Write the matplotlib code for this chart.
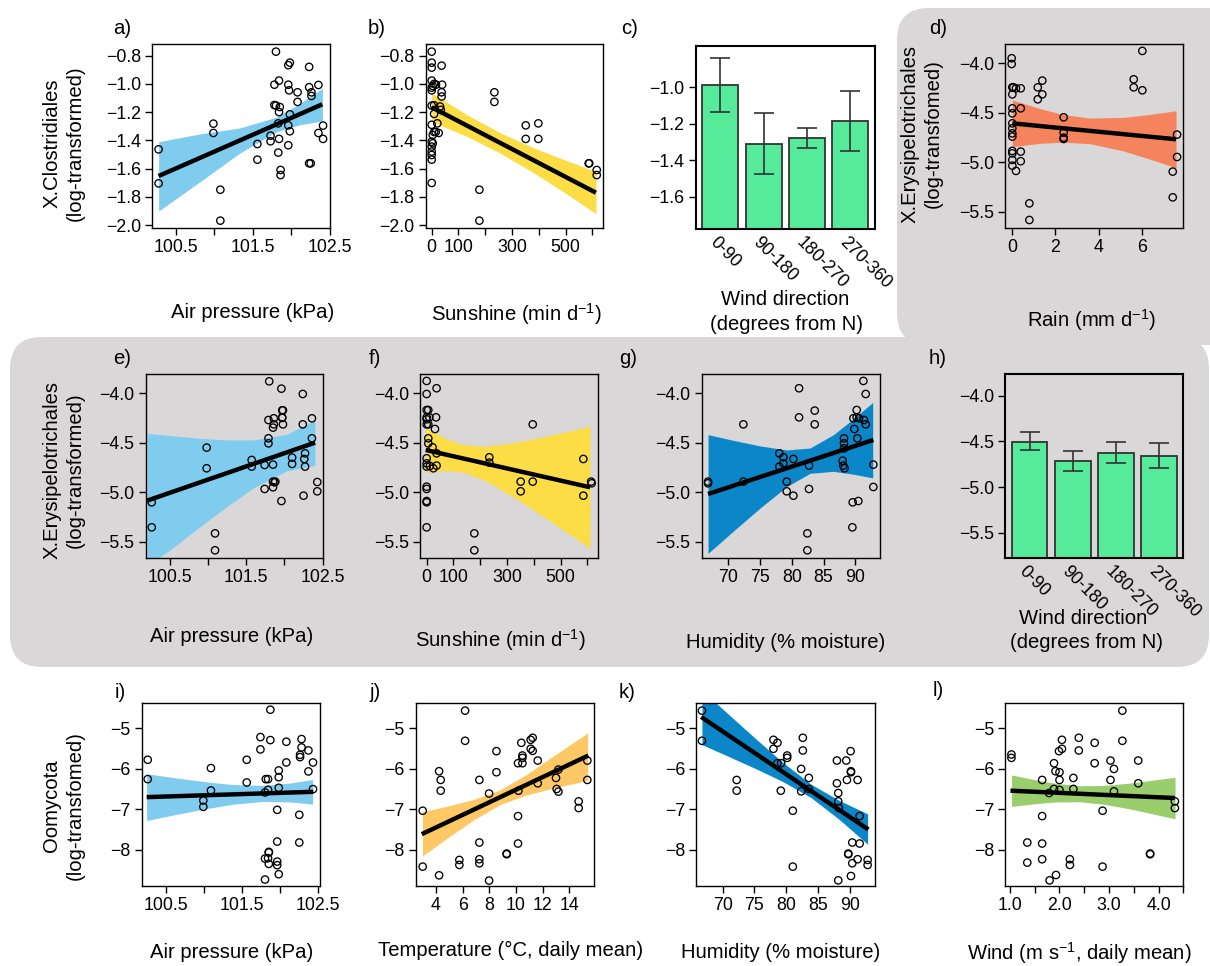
import numpy as np
import matplotlib
matplotlib.use('Agg')
import matplotlib.pyplot as plt
import matplotlib.transforms as mtransforms
from matplotlib.patches import FancyBboxPatch

plt.rcParams['font.family'] = ['Liberation Sans', 'DejaVu Sans']
plt.rcParams['mathtext.fontset'] = 'custom'
plt.rcParams['mathtext.rm'] = 'Liberation Sans'
plt.rcParams['mathtext.sf'] = 'Liberation Sans'
plt.rcParams['mathtext.it'] = 'Liberation Sans:italic'

W, H = 1210, 966
TICK_FS = 12.8
LAB_FS = 14.6

# ---- colours
LIGHT_BLUE = '#80CCEE'
YELLOW = '#FCDD45'
SALMON = '#F5845E'
DARK_BLUE = '#0B87C9'
ORANGE = '#FEC867'
GREEN = '#9ACD6C'
BAR_GREEN = '#56EB9A'
PANEL_GREY = '#D9D7D8'

# ---- a) X.Clostridiales vs air pressure
a_x = [100.28, 100.28, 100.99, 100.99, 101.08, 101.08, 101.56, 101.56, 101.73, 101.73,
       101.80, 101.78, 101.84, 101.78, 101.80, 101.85, 101.84, 101.83, 101.84, 101.83,
       101.86, 101.86, 101.96, 101.98, 101.96, 101.97, 101.98, 101.96, 101.98, 101.96,
       102.08, 102.08, 102.23, 102.23, 102.26, 102.26, 102.35, 102.35, 102.41, 102.41,
       102.25, 102.23]
a_y = [-1.464, -1.705, -1.282, -1.348, -1.750, -1.969, -1.426, -1.537, -1.367, -1.407,
       -0.772, -1.006, -0.977, -1.150, -1.154, -1.164, -1.200, -1.280, -1.390, -1.487,
       -1.610, -1.646, -0.868, -0.850, -1.006, -1.046, -1.216, -1.294, -1.336, -1.435,
       -1.060, -1.128, -0.880, -1.024, -1.060, -1.086, -1.008, -1.348, -1.296, -1.390,
       -1.563, -1.563]
a_fit_x = [100.28, 102.40]
a_fit_y = [-1.653, -1.145]
a_band_x = [100.281, 100.813, 101.328, 101.800, 102.101, 102.401]
a_band_hi = [-1.410, -1.355, -1.313, -1.237, -1.143, -1.032]
a_band_lo = [-1.901, -1.695, -1.492, -1.341, -1.291, -1.263]

# ---- b) X.Clostridiales vs sunshine
b_x = [0, 0, 0, 0, 0, 0, 4, 9, 16, 0, 9, 0, 9, 9, 4, 0, 4, 0, 0, 0, 0, 0,
       15, 21, 26, 37, 39, 37, 37, 31, 34, 178, 178, 234, 234, 351, 351, 398, 398,
       586, 588, 616, 616]
b_y = [-0.772, -0.850, -0.885, -0.977, -1.027, -1.046, -1.015, -1.000, -1.006,
       -1.154, -1.152, -1.290, -1.213, -1.341, -1.362, -1.410, -1.421, -1.445, -1.480,
       -1.504, -1.537, -1.702, -1.341, -1.280, -1.348, -0.871, -1.006, -1.060, -1.090,
       -1.161, -1.185, -1.750, -1.969, -1.060, -1.128, -1.294, -1.390, -1.280, -1.390,
       -1.563, -1.563, -1.610, -1.646]
b_fit_x = [0, 613]
b_fit_y = [-1.166, -1.771]
b_band_x = [0, 130.6, 255.0, 379.4, 503.7, 613.2]
b_band_hi = [-1.065, -1.218, -1.346, -1.452, -1.544, -1.622]
b_band_lo = [-1.268, -1.372, -1.490, -1.629, -1.780, -1.920]

# ---- c) X.Clostridiales vs wind direction (bars)
wind_dirs = ['0-90', '90-180', '180-270', '270-360']
c_mean = [-0.986, -1.310, -1.275, -1.187]
c_lo = [-1.134, -1.476, -1.330, -1.348]
c_hi = [-0.837, -1.140, -1.220, -1.022]

# ---- d) X.Erysipelotrichales vs rain
d_x = [-0.03, -0.03, 0, 0, 0, 0, 0, 0, 0, 0, 0, 0, 0, 0, 0.05, 0.17, 0.17,
       0.39, 0.39, 0.39, 0.39, 0.79, 0.79, 1.18, 1.18, 1.39, 1.39, 2.38, 2.38, 2.38,
       2.38, 5.63, 5.63, 6.03, 6.03, 7.44, 7.44, 7.64, 7.64]
d_y = [-3.949, -4.007, -4.243, -4.314, -4.455, -4.506, -4.607, -4.657, -4.708, -4.741,
       -4.886, -4.910, -4.977, -5.035, -4.243, -4.253, -5.088, -4.253, -4.455, -4.893,
       -4.990, -5.416, -5.584, -4.243, -4.364, -4.175, -4.314, -4.546, -4.701, -4.752,
       -4.765, -4.162, -4.243, -3.875, -4.273, -5.095, -5.355, -4.721, -4.947]
d_fit_x = [0, 7.59]
d_fit_y = [-4.607, -4.768]
d_band_x = [0, 1.283, 2.366, 3.603, 5.149, 6.386, 7.592]
d_band_hi = [-4.371, -4.458, -4.518, -4.554, -4.547, -4.517, -4.480]
d_band_lo = [-4.843, -4.809, -4.797, -4.813, -4.886, -4.969, -5.057]

# ---- e) X.Erysipelotrichales vs air pressure
e_x = [100.26, 100.26, 100.98, 100.98, 101.09, 101.09, 101.57, 101.57, 101.74, 101.74,
       101.80, 101.79, 101.79, 101.79, 101.85, 101.86, 101.86, 101.85, 101.85, 101.87,
       101.88, 101.85, 101.96, 101.97, 101.97, 101.98, 101.98, 101.97, 101.96, 102.10,
       102.10, 102.24, 102.24, 102.26, 102.27, 102.27, 102.25, 102.36, 102.36, 102.43,
       102.43]
e_y = [-5.102, -5.355, -4.549, -4.758, -5.416, -5.587, -4.674, -4.741, -4.725, -4.967,
       -3.879, -4.270, -4.455, -4.506, -4.347, -4.253, -4.314, -4.721, -4.893, -4.900,
       -4.893, -4.950, -3.953, -4.172, -4.243, -4.172, -4.314, -4.249, -5.089, -4.650,
       -4.714, -4.007, -4.314, -4.664, -4.607, -4.741, -5.035, -4.253, -4.455, -4.897,
       -4.991]
e_fit_x = [100.20, 102.40]
e_fit_y = [-5.085, -4.499]
e_band_x = [100.20, 100.544, 100.893, 101.242, 101.592, 102.028, 102.400]
e_band_hi = [-4.405, -4.431, -4.455, -4.472, -4.472, -4.415, -4.273]
e_band_lo = [-5.745, -5.558, -5.348, -5.146, -4.957, -4.785, -4.728]

# ---- f) X.Erysipelotrichales vs sunshine
f_x = [0, 0, 0, 0, 0, 0, 0, 0, 0, 0, 0, 0, 0, 0,
       6, 6, 6, 6, 10, 12, 22, 25, 31, 35, 37, 37, 37, 178, 178, 234, 234,
       351, 351, 396, 396, 585, 585, 614, 616]
f_y = [-3.875, -4.007, -4.169, -4.243, -4.263, -4.314, -4.657, -4.708, -4.741, -4.944,
       -4.967, -5.089, -5.102, -5.355, -4.169, -4.314, -4.455, -4.506, -4.243, -4.735,
       -4.546, -4.758, -4.361, -4.243, -3.949, -4.607, -4.731, -5.416, -5.587, -4.647,
       -4.701, -4.893, -4.991, -4.314, -4.893, -4.664, -5.035, -4.893, -4.910]
f_fit_x = [-3.7, 610]
f_fit_y = [-4.573, -4.950]
f_band_x = [-3.7, 74.7, 136.9, 224.1, 323.7, 423.3, 522.9, 610.0]
f_band_hi = [-4.347, -4.462, -4.521, -4.536, -4.500, -4.447, -4.388, -4.334]
f_band_lo = [-4.799, -4.780, -4.798, -4.890, -5.049, -5.224, -5.406, -5.567]

# ---- g) X.Erysipelotrichales vs humidity
g_x = [66.8, 66.8, 72.36, 72.36, 78.03, 78.03, 78.66, 78.66, 79.19, 79.19, 80.24, 80.24,
       81.13, 81.13, 82.44, 82.44, 82.7, 82.7, 83.6, 83.6, 88.21, 88.21, 88.21, 88.0,
       88.1, 88.3, 89.58, 89.53, 89.69, 89.84, 90.21, 90.21, 90.31, 90.47, 90.58, 91.26,
       91.36, 91.63, 91.63, 92.83, 92.83]
g_y = [-4.893, -4.910, -4.314, -4.893, -4.607, -4.741, -4.647, -4.708, -4.893, -4.991,
       -4.664, -5.035, -3.949, -4.243, -5.416, -5.587, -4.731, -4.967, -4.175, -4.314,
       -4.455, -4.506, -4.556, -4.681, -4.731, -4.758, -5.102, -5.355, -4.253, -4.361,
       -4.169, -4.243, -4.455, -5.089, -4.253, -3.875, -4.270, -4.007, -4.314, -4.721,
       -4.947]
g_fit_x = [66.8, 92.83]
g_fit_y = [-5.018, -4.472]
g_band_x = [66.80, 70.79, 74.99, 79.19, 82.86, 86.54, 89.69, 92.73]
g_band_hi = [-4.418, -4.476, -4.532, -4.573, -4.553, -4.419, -4.258, -4.093]
g_band_lo = [-5.618, -5.393, -5.160, -4.943, -4.809, -4.789, -4.818, -4.855]

# ---- h) X.Erysipelotrichales vs wind direction (bars)
h_mean = [-4.503, -4.718, -4.626, -4.660]
h_lo = [-4.60, -4.82, -4.74, -4.79]
h_hi = [-4.40, -4.61, -4.51, -4.52]

# ---- i) Oomycota vs air pressure
i_x = [100.26, 100.26, 100.99, 100.99, 101.09, 101.09, 101.56, 101.56, 101.74, 101.74,
       101.80, 101.80, 101.80, 101.81, 101.84, 101.84, 101.84, 101.85, 101.85, 101.85,
       101.87, 101.87, 101.96, 101.96, 101.96, 101.96, 101.98, 101.98, 101.98, 101.98,
       102.08, 102.08, 102.25, 102.25, 102.26, 102.26, 102.28, 102.28, 102.37, 102.37,
       102.43, 102.43]
i_y = [-5.781, -6.258, -6.784, -6.940, -5.986, -6.537, -5.781, -6.340, -5.222, -5.526,
       -8.731, -8.214, -6.586, -6.258, -8.205, -6.258, -6.521, -8.345, -8.066, -8.049,
       -4.548, -5.296, -7.014, -7.795, -8.288, -8.378, -8.600, -6.044, -6.210, -6.471,
       -5.337, -5.847, -7.137, -7.819, -5.658, -5.715, -5.271, -5.477, -5.551, -6.068,
       -5.847, -6.504]
i_fit_x = [100.246, 102.434]
i_fit_y = [-6.701, -6.570]
i_band_x = [100.246, 100.640, 101.034, 101.384, 101.778, 102.128, 102.425]
i_band_hi = [-6.126, -6.230, -6.325, -6.392, -6.412, -6.355, -6.269]
i_band_lo = [-7.277, -7.125, -6.982, -6.875, -6.807, -6.820, -6.872]

# ---- j) Oomycota vs temperature
j_x = [3.0, 3.0, 4.23, 4.35, 4.35, 4.23, 5.75, 5.75, 6.18, 6.18, 7.25, 7.25, 7.25, 7.25,
       7.98, 7.98, 8.53, 8.53, 9.3, 9.3, 10.15, 10.15, 10.15, 10.18, 10.4, 10.48, 10.48,
       10.48, 11.1, 11.25, 11.1, 11.25, 11.63, 11.63, 13.0, 13.05, 13.18, 13.18, 14.7,
       14.7, 15.35, 15.35]
j_y = [-7.036, -8.413, -6.063, -6.277, -6.542, -8.627, -8.248, -8.371, -4.571, -5.313,
       -6.277, -7.819, -8.231, -8.330, -6.612, -8.756, -5.569, -6.088, -8.091, -8.108,
       -5.866, -7.168, -7.844, -6.542, -5.363, -5.676, -5.866, -5.734, -5.289, -5.239,
       -5.511, -5.561, -5.800, -6.360, -6.228, -6.500, -6.566, -6.022, -6.805, -6.970,
       -5.800, -6.277]
j_fit_x = [2.93, 15.43]
j_fit_y = [-7.613, -5.676]
j_band_x = [2.975, 4.8, 6.8, 8.8, 10.8, 12.8, 15.375]
j_band_hi = [-7.062, -6.927, -6.760, -6.522, -6.140, -5.687, -5.12]
j_band_lo = [-8.150, -7.720, -7.266, -6.885, -6.646, -6.480, -6.290]

# ---- k) Oomycota vs humidity
k_x = [66.74, 66.74, 72.21, 72.21, 78.0, 78.0, 78.63, 78.63, 79.21, 79.16, 80.16, 80.16,
       81.05, 81.05, 82.37, 82.37, 82.63, 82.63, 83.58, 83.58, 88.0, 88.0, 88.21, 88.21,
       88.32, 88.21, 89.47, 89.58, 89.79, 89.79, 90.16, 90.21, 90.21, 90.21, 90.42, 90.42,
       91.26, 91.26, 91.58, 91.58, 92.84, 92.84]
k_y = [-4.571, -5.313, -6.278, -6.542, -5.289, -5.511, -5.363, -5.866, -5.866, -6.542,
       -5.676, -5.734, -7.036, -8.413, -6.006, -6.558, -5.239, -5.552, -6.228, -6.500,
       -5.800, -6.360, -6.600, -6.805, -6.970, -8.751, -5.800, -6.277, -8.091, -8.108,
       -5.569, -6.088, -6.063, -8.644, -7.819, -8.330, -6.278, -8.231, -7.168, -7.844,
       -8.248, -8.371]
k_fit_x = [66.63, 92.95]
k_fit_y = [-4.728, -7.498]
k_band_x = [66.74, 71.05, 75.26, 79.47, 83.95, 88.42, 92.84]
k_band_hi = [-4.068, -4.679, -5.270, -5.844, -6.386, -6.786, -7.113]
k_band_lo = [-5.409, -5.707, -6.003, -6.316, -6.716, -7.257, -7.862]

# ---- l) Oomycota vs wind speed
l_x = [1.03, 1.03, 1.35, 1.35, 1.65, 1.65, 1.65, 1.65, 1.8, 1.89, 1.89, 1.92, 1.93, 1.99,
       2.0, 2.0, 2.0, 2.05, 2.05, 1.79, 2.21, 2.21, 2.28, 2.28, 2.39, 2.39, 2.71, 2.71,
       2.87, 2.87, 3.03, 3.03, 3.1, 3.1, 3.27, 3.27, 3.59, 3.59, 3.83, 3.83, 4.33, 4.33]
l_y = [-5.651, -5.734, -7.819, -8.314, -6.278, -7.168, -7.844, -8.231, -8.751, -5.866,
       -6.500, -6.063, -8.619, -5.569, -6.088, -6.278, -6.525, -5.289, -5.511, -6.600,
       -8.231, -8.371, -6.228, -6.500, -5.239, -5.552, -5.363, -5.866, -7.036, -8.413,
       -5.800, -6.278, -6.006, -6.558, -4.571, -5.313, -5.800, -6.360, -8.091, -8.108,
       -6.805, -6.970]
l_fit_x = [1.01, 4.33]
l_fit_y = [-6.542, -6.723]
l_band_x = [1.033, 1.533, 1.933, 2.4, 2.867, 3.4, 4.333]
l_band_hi = [-6.155, -6.280, -6.364, -6.420, -6.415, -6.358, -6.212]
l_band_lo = [-6.930, -6.859, -6.820, -6.815, -6.871, -6.986, -7.234]


def minus(s):
    return s.replace('-', '\u2212')


def axes_px(fig, x0, y0, x1, y1):
    return fig.add_axes([x0 / W, 1 - y1 / H, (x1 - x0) / W, (y1 - y0) / H])


def style(ax, xlim, ylim, xticks, xlabels, yticks, ylabels):
    ax.set_facecolor('none')
    ax.set_xlim(xlim)
    ax.set_ylim(ylim)
    ax.set_xticks(xticks)
    ax.set_xticklabels(xlabels)
    ax.set_yticks(yticks)
    ax.set_yticklabels([minus(t) for t in ylabels])
    for sp in ax.spines.values():
        sp.set_linewidth(1.0)
    ax.tick_params(direction='out', length=5, width=1, labelsize=TICK_FS, pad=3)


def scatter_panel(ax, x, y, fx, fy, bx, blo, bhi, color):
    ax.fill_between(bx, blo, bhi, color=color, lw=0, zorder=1)
    ax.plot(fx, fy, color='black', lw=3.2, solid_capstyle='butt', zorder=2)
    ax.scatter(x, y, s=28, facecolors='none', edgecolors='black', linewidths=0.95, zorder=3)


def bar_panel(ax, means, lo, hi, base):
    pos = np.array([0.7, 1.9, 3.1, 4.3])
    means = np.array(means)
    ax.bar(pos, means - base, bottom=base, width=1.0, color=BAR_GREEN,
           edgecolor='#333333', linewidth=1.3, zorder=1)
    yerr = [means - np.array(lo), np.array(hi) - means]
    ax.errorbar(pos, means, yerr=yerr, fmt='none', ecolor='#333333', elinewidth=1.2,
                capsize=7, capthick=1.2, zorder=2)
    trans = mtransforms.blended_transform_factory(ax.transData, ax.transAxes)
    for p, lab in zip(pos, wind_dirs):
        ax.text(p - 0.22, -0.06, lab, rotation=-45, rotation_mode='anchor',
                ha='left', va='center', fontsize=12.8, transform=trans, clip_on=False)


fig = plt.figure(figsize=(W / 100, H / 100), dpi=100)
fig.patch.set_facecolor('white')

# grey highlight behind the Erysipelotrichales panels
inch = fig.dpi_scale_trans
fig.patches.append(FancyBboxPatch((897 / 100, (H - 345) / 100), (1260 - 897) / 100, (345 - 8) / 100,
                                  boxstyle='round,pad=0,rounding_size=0.32',
                                  fc=PANEL_GREY, ec='none', transform=inch, zorder=-10))
fig.patches.append(FancyBboxPatch((10 / 100, (H - 667) / 100), (1209 - 10) / 100, (667 - 337) / 100,
                                  boxstyle='round,pad=0,rounding_size=0.32',
                                  fc=PANEL_GREY, ec='none', transform=inch, zorder=-10))

yt_clos = [-2.0, -1.8, -1.6, -1.4, -1.2, -1.0, -0.8]
yl_clos = ['%.1f' % v for v in yt_clos]
yt_ery = [-5.5, -5.0, -4.5, -4.0]
yl_ery = ['%.1f' % v for v in yt_ery]
yt_oom = [-8, -7, -6, -5]
yl_oom = ['%d' % v for v in yt_oom]
xt_pres = [100.5, 101.0, 101.5, 102.0, 102.5]
xl_pres = ['100.5', '', '101.5', '', '102.5']
xt_sun = [0, 100, 200, 300, 400, 500, 600]
xl_sun = ['0', '100', '', '300', '', '500', '']
xt_hum = [70, 75, 80, 85, 90]
xl_hum = ['70', '75', '80', '85', '90']

# row 1
ax = axes_px(fig, 152, 44.3, 330, 227.7)
scatter_panel(ax, a_x, a_y, a_fit_x, a_fit_y, a_band_x, a_band_lo, a_band_hi, LIGHT_BLUE)
style(ax, (100.195, 102.487), (-2.019, -0.72), xt_pres, xl_pres, yt_clos, yl_clos)

ax = axes_px(fig, 425.7, 44.3, 603.3, 227.7)
scatter_panel(ax, b_x, b_y, b_fit_x, b_fit_y, b_band_x, b_band_lo, b_band_hi, YELLOW)
style(ax, (-22.4, 640.5), (-2.019, -0.72), xt_sun, xl_sun, yt_clos, yl_clos)

ax = axes_px(fig, 695.7, 45.7, 875, 229)
bar_panel(ax, c_mean, c_lo, c_hi, -3.0)
style(ax, (0.016, 4.984), (-1.777, -0.771), [], [], [-1.6, -1.4, -1.2, -1.0],
      ['-1.6', '-1.4', '-1.2', '-1.0'])
for sp in ax.spines.values():
    sp.set_linewidth(1.5)

ax = axes_px(fig, 1005, 44.3, 1183.3, 227.7)
scatter_panel(ax, d_x, d_y, d_fit_x, d_fit_y, d_band_x, d_band_lo, d_band_hi, SALMON)
style(ax, (-0.34, 7.93), (-5.662, -3.808), [0, 2, 4, 6], ['0', '2', '4', '6'], yt_ery, yl_ery)

# row 2
ax = axes_px(fig, 145.7, 374.3, 323.3, 557.7)
scatter_panel(ax, e_x, e_y, e_fit_x, e_fit_y, e_band_x, e_band_lo, e_band_hi, LIGHT_BLUE)
style(ax, (100.181, 102.509), (-5.662, -3.808), xt_pres, xl_pres, yt_ery, yl_ery)

ax = axes_px(fig, 420, 374.3, 597.7, 557.7)
scatter_panel(ax, f_x, f_y, f_fit_x, f_fit_y, f_band_x, f_band_lo, f_band_hi, YELLOW)
style(ax, (-24.9, 638.6), (-5.662, -3.808), xt_sun, xl_sun, yt_ery, yl_ery)

ax = axes_px(fig, 701.7, 374.3, 880, 557.7)
scatter_panel(ax, g_x, g_y, g_fit_x, g_fit_y, g_band_x, g_band_lo, g_band_hi, DARK_BLUE)
style(ax, (65.8, 93.88), (-5.662, -3.808), xt_hum, xl_hum, yt_ery, yl_ery)

ax = axes_px(fig, 1005, 374.3, 1183.3, 557.7)
bar_panel(ax, h_mean, h_lo, h_hi, -7.0)
style(ax, (0.016, 4.984), (-5.774, -3.766), [], [], yt_ery, yl_ery)
for sp in ax.spines.values():
    sp.set_linewidth(1.5)

# row 3
ax = axes_px(fig, 141.7, 703.3, 320, 886)
scatter_panel(ax, i_x, i_y, i_fit_x, i_fit_y, i_band_x, i_band_lo, i_band_hi, LIGHT_BLUE)
style(ax, (100.181, 102.522), (-8.89, -4.39), xt_pres, xl_pres, yt_oom, yl_oom)

ax = axes_px(fig, 415.7, 703.3, 594, 886)
scatter_panel(ax, j_x, j_y, j_fit_x, j_fit_y, j_band_x, j_band_lo, j_band_hi, ORANGE)
style(ax, (2.475, 15.85), (-8.89, -4.39), [4, 6, 8, 10, 12, 14],
      ['4', '6', '8', '10', '12', '14'], yt_oom, yl_oom)

ax = axes_px(fig, 696, 703.3, 875, 886)
scatter_panel(ax, k_x, k_y, k_fit_x, k_fit_y, k_band_x, k_band_lo, k_band_hi, DARK_BLUE)
style(ax, (65.8, 94.0), (-8.89, -4.39), xt_hum, xl_hum, yt_oom, yl_oom)

ax = axes_px(fig, 1005, 703.3, 1183.3, 886)
scatter_panel(ax, l_x, l_y, l_fit_x, l_fit_y, l_band_x, l_band_lo, l_band_hi, GREEN)
style(ax, (0.9, 4.467), (-8.89, -4.39), [1.0, 1.5, 2.0, 2.5, 3.0, 3.5, 4.0, 4.5],
      ['1.0', '', '2.0', '', '3.0', '', '4.0', ''], yt_oom, yl_oom)


def ftext(x, y, s, **kw):
    kw.setdefault('fontsize', LAB_FS)
    kw.setdefault('ha', 'center')
    kw.setdefault('va', 'center')
    fig.text(x / W, 1 - y / H, s, **kw)


# panel letters
for lab, x, y in [('a)', 122, 28), ('b)', 377, 28), ('c)', 630, 28), ('d)', 938, 28),
                  ('e)', 122, 358), ('f)', 375, 358), ('g)', 628, 358), ('h)', 938, 358),
                  ('i)', 120, 692), ('j)', 375, 692), ('k)', 627, 692), ('l)', 938, 690)]:
    ftext(x, y, lab)

# x labels
sun_lab = r'Sunshine (min d$^{\mathregular{-1}}$)'
ftext(253, 312, 'Air pressure (kPa)')
ftext(516, 314, sun_lab)
ftext(785, 300, 'Wind direction')
ftext(786, 325, '(degrees from N)')
ftext(1092, 320, r'Rain (mm d$^{\mathregular{-1}}$)')
ftext(232, 637, 'Air pressure (kPa)')
ftext(500, 640, sun_lab)
ftext(786, 642, 'Humidity (% moisture)')
ftext(1083, 618, 'Wind direction')
ftext(1087, 642, '(degrees from N)')
ftext(232, 952, 'Air pressure (kPa)')
ftext(511, 950, 'Temperature (\u00b0C, daily mean)')
ftext(781, 952, 'Humidity (% moisture)')
ftext(1079, 953, r'Wind (m s$^{\mathregular{-1}}$, daily mean)')

# y labels
ftext(63.5, 143, 'X.Clostridiales\n(log-transformed)', rotation=90, linespacing=1.3)
ftext(922, 134, 'X.Erysipelotrichales\n(log-transfomed)', rotation=90, linespacing=1.3)
ftext(63.5, 470, 'X.Erysipelotrichales\n(log-transformed)', rotation=90, linespacing=1.3)
ftext(63.5, 806, 'Oomycota\n(log-transfomed)', rotation=90, linespacing=1.3)

fig.savefig('out.png', dpi=100)
